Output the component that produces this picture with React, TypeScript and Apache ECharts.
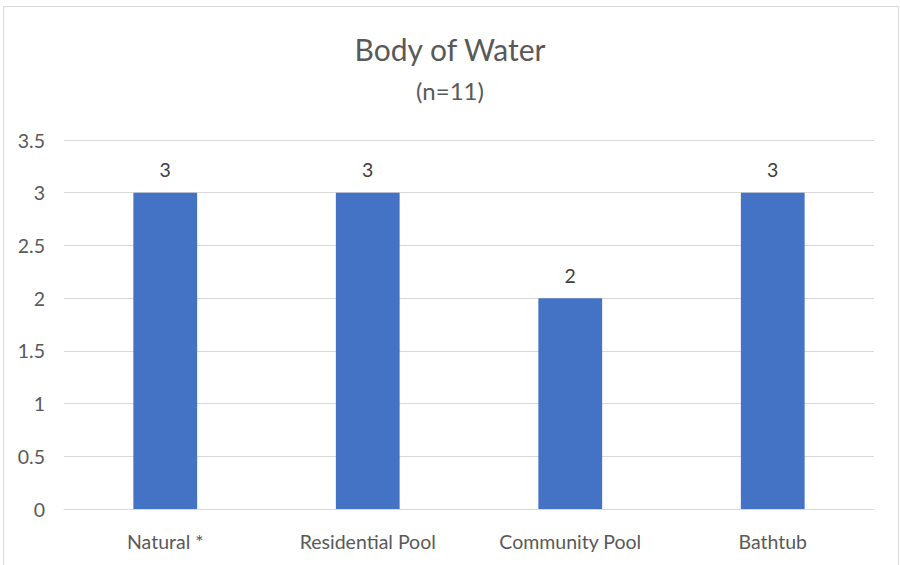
import React, { useEffect, useRef } from "react";
import * as echarts from "echarts";

const categories = ["Natural *", "Residential Pool", "Community Pool", "Bathtub"];
const counts = [3, 3, 2, 3];
const titleText = "Body of Water";
const subtitleText = "(n=11)";

export default function App() {
  const ref = useRef<HTMLDivElement>(null);
  useEffect(() => {
    if (!ref.current) return;
    const chart = echarts.init(ref.current, null, { renderer: "svg" });
    const font = "Lato, 'Open Sans', sans-serif";
    chart.setOption({
      animation: false,
      backgroundColor: "#ffffff",
      title: {
        text: titleText,
        subtext: subtitleText,
        left: "center",
        top: 29,
        itemGap: 14,
        textStyle: { fontFamily: font, fontSize: 30, fontWeight: "normal", color: "#595959" },
        subtextStyle: { fontFamily: font, fontSize: 24, color: "#595959" },
      },
      graphic: [
        {
          type: "rect",
          shape: { x: 3.5, y: 6.5, width: 895, height: 580 },
          style: { fill: "none", stroke: "#d9d9d9", lineWidth: 1 },
          silent: true,
        },
      ],
      grid: { left: 64, right: 26, top: 140, bottom: 56, containLabel: false },
      xAxis: {
        type: "category",
        data: categories,
        axisLine: { show: true, lineStyle: { color: "#d9d9d9", width: 1 } },
        axisTick: { show: false },
        axisLabel: { fontFamily: font, fontSize: 19.5, color: "#595959", margin: 22 },
      },
      yAxis: {
        type: "value",
        min: 0,
        max: 3.5,
        interval: 0.5,
        axisLine: { show: false },
        axisTick: { show: false },
        splitLine: { lineStyle: { color: "#d9d9d9", width: 1 } },
        axisLabel: { fontFamily: font, fontSize: 19.5, color: "#595959", margin: 19 },
      },
      series: [
        {
          type: "bar",
          data: counts,
          barWidth: "31.5%",
          itemStyle: { color: "#4472C4" },
          label: {
            show: true,
            position: "top",
            distance: 13,
            fontFamily: font,
            fontSize: 19.5,
            color: "#404040",
          },
        },
      ],
    });
    return () => chart.dispose();
  }, []);
  return (
    <div
      ref={ref}
      style={{ position: "fixed", left: 0, top: 0, width: 900, height: 565 }}
    />
  );
}
